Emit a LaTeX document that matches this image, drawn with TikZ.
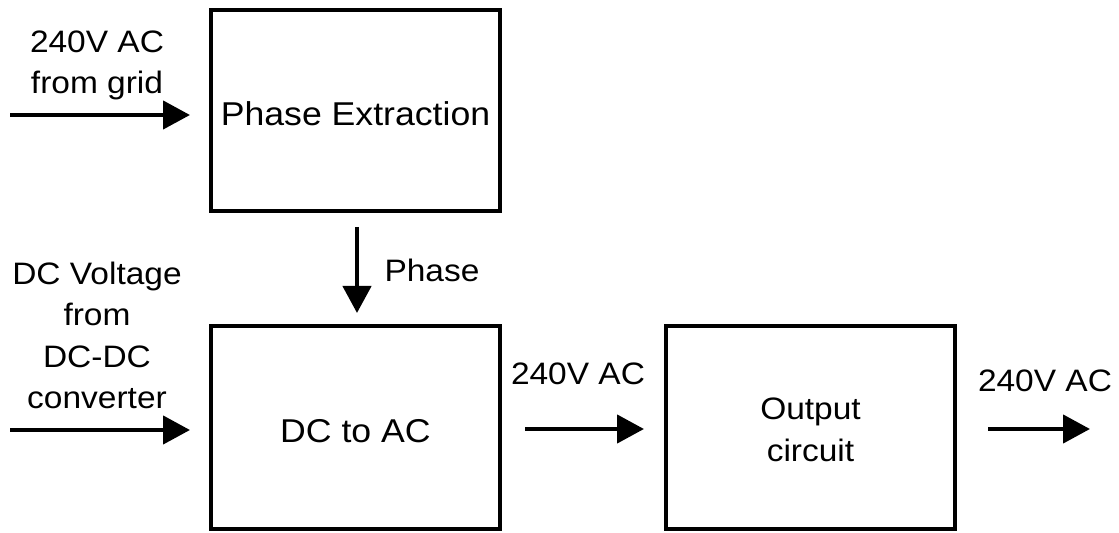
\documentclass[tikz,border=0pt]{standalone}
\usepackage{fontspec}
\setmainfont{Liberation Sans}[FakeStretch=1.08]
\usetikzlibrary{arrows.meta}
\begin{document}
\begin{tikzpicture}[x=0.5pt,y=-0.5pt,
  blockbox/.style={draw=black,line width=2.2pt,inner sep=0pt,align=center,
    minimum width=144.5pt},
  arr/.style={line width=2.2pt,-{Triangle[length=13.5pt,width=14pt]}},
  lbl/.style={inner sep=0pt,align=center,font=\fontsize{15.5pt}{20.5pt}\selectfont},
  bigtxt/.style={font=\fontsize{16.5pt}{21pt}\selectfont,text height=15.5pt,text depth=0pt},
  smalltxt/.style={font=\fontsize{15.5pt}{21pt}\selectfont}]
\useasboundingbox (0,0) rectangle (1119,533);
% boxes
\node[blockbox,bigtxt,minimum height=100.5pt] (pe) at (355.5,110.5) {Phase Extraction};
\node[blockbox,bigtxt,minimum height=101.5pt] (dcac) at (355.5,427.5) {DC to AC};
\node[blockbox,smalltxt,minimum height=101.5pt] (out) at (810.5,427.5) {\rule{0pt}{13pt}Output\\circuit};
% labels
\node[lbl,anchor=base] (g1) at (97,53) {240V AC};
\node[lbl,anchor=base] (g2) at (97,94) {from grid};
\node[lbl,anchor=base] (ph) at (432,282) {Phase};
\node[lbl,anchor=base] (d1) at (97,285) {DC Voltage};
\node[lbl,anchor=base] (d2) at (97,326) {from};
\node[lbl,anchor=base] (d3) at (97,368) {DC-DC};
\node[lbl,anchor=base] (d4) at (97,409) {converter};
\node[lbl,anchor=base] (m1) at (578,385) {240V AC};
\node[lbl,anchor=base] (r1) at (1045,392) {240V AC};
% arrow end points
\coordinate (a1s) at (10,115);  \coordinate (a1e) at (190,115);
\coordinate (a2s) at (357,227); \coordinate (a2e) at (357,313);
\coordinate (a3s) at (10,430);  \coordinate (a3e) at (190,430);
\coordinate (a4s) at (525,429); \coordinate (a4e) at (644,429);
\coordinate (a5s) at (988,429); \coordinate (a5e) at (1090,429);
\draw[arr] (a1s) -- (a1e);
\draw[arr] (a2s) -- (a2e);
\draw[arr] (a3s) -- (a3e);
\draw[arr] (a4s) -- (a4e);
\draw[arr] (a5s) -- (a5e);
\end{tikzpicture}
\end{document}
